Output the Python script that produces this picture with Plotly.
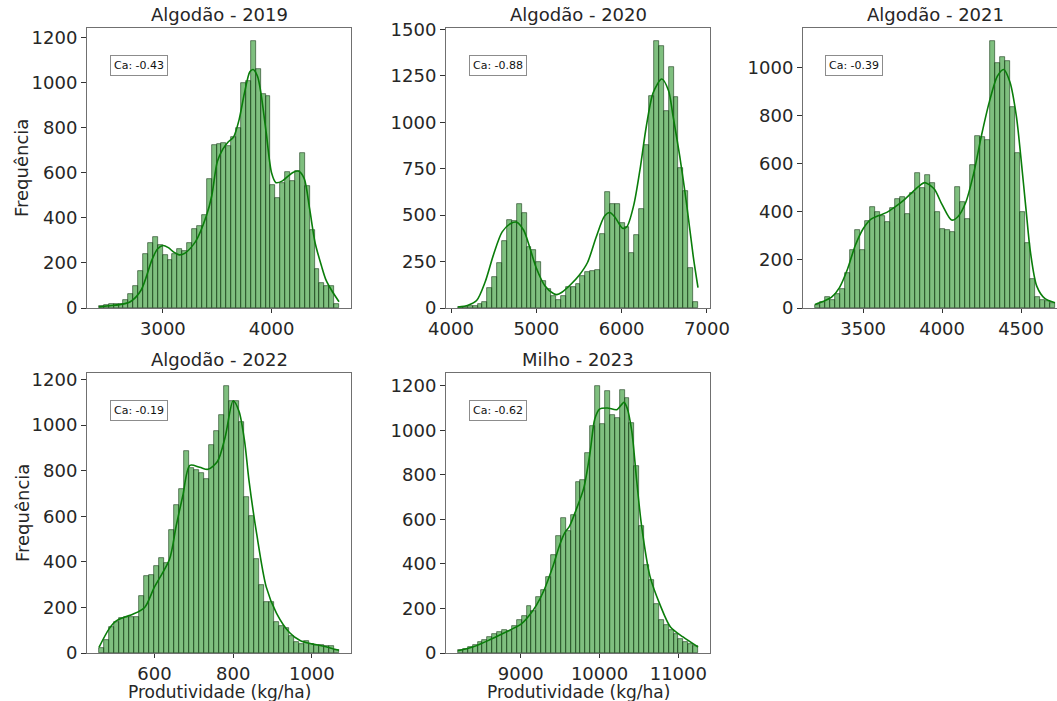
import numpy as np
import plotly.graph_objects as go

# ---- data: histogram counts (equal-width bins between bin_start and bin_end) ----
titles = ["Algodão - 2019", "Algodão - 2020", "Algodão - 2021", "Algodão - 2022", "Milho - 2023"]
ca_labels = ["Ca: -0.43", "Ca: -0.88", "Ca: -0.39", "Ca: -0.19", "Ca: -0.62"]

bin_start = [2412, 4082, 3195, 459, 8204]
bin_end = [4620, 6895, 4715, 1069, 11250]

counts_2019 = [10, 14, 20, 17, 20, 35, 62, 100, 165, 238, 290, 315, 280, 235, 215, 240, 262,
               252, 290, 350, 365, 415, 575, 725, 730, 735, 720, 760, 800, 1000, 1010, 1185,
               1060, 950, 940, 545, 490, 557, 605, 565, 610, 688, 540, 345, 172, 110, 100, 100, 18]
counts_2020 = [4, 7, 11, 12, 22, 31, 107, 166, 244, 362, 474, 468, 559, 514, 327, 311, 246,
               148, 103, 63, 43, 67, 112, 112, 130, 175, 193, 199, 203, 398, 622, 559, 560, 456,
               438, 297, 392, 533, 880, 1143, 1436, 1410, 1061, 1297, 1134, 754, 631, 217, 31]
counts_2021 = [14, 25, 45, 35, 60, 78, 145, 243, 326, 243, 361, 421, 400, 382, 358, 415, 455,
               462, 393, 480, 560, 500, 555, 520, 400, 330, 325, 315, 505, 440, 370, 595, 715,
               710, 700, 1110, 1020, 1045, 1030, 835, 645, 400, 270, 120, 45, 35, 30, 20]
counts_2022 = [24, 59, 115, 137, 152, 156, 160, 160, 248, 338, 343, 382, 416, 397, 538, 650,
               720, 888, 813, 803, 790, 762, 912, 975, 1044, 1170, 1105, 1105, 1012, 685, 600,
               412, 300, 225, 225, 137, 118, 110, 74, 49, 41, 52, 38, 34, 34, 29, 31, 12]
counts_2023 = [12, 20, 27, 38, 50, 60, 72, 84, 95, 105, 98, 120, 147, 165, 210, 190, 250, 285,
               340, 440, 523, 606, 546, 620, 768, 776, 899, 1017, 1197, 1027, 1175, 1068, 1057,
               1180, 1143, 1032, 839, 568, 395, 328, 218, 147, 125, 102, 85, 65, 50, 39, 30]

# ---- density curves (scaled to counts) ----
kde_x_2019 = [2412, 2500, 2600, 2700, 2800, 2900, 2950, 3000, 3050, 3100, 3150, 3200, 3300,
              3400, 3450, 3500, 3550, 3600, 3650, 3700, 3750, 3800, 3830, 3870, 3900, 3950,
              4000, 4040, 4100, 4150, 4200, 4250, 4300, 4350, 4400, 4460, 4500, 4550, 4620]
kde_y_2019 = [5, 10, 15, 28, 80, 215, 262, 278, 268, 248, 236, 243, 295, 410, 500, 650, 705,
              738, 760, 835, 955, 1050, 1060, 1030, 960, 780, 600, 557, 565, 585, 603, 608,
              575, 440, 290, 185, 125, 80, 28]
kde_x_2020 = [4082, 4200, 4300, 4400, 4500, 4600, 4700, 4770, 4850, 4900, 5000, 5100, 5200,
              5240, 5300, 5400, 5500, 5600, 5700, 5800, 5860, 5920, 6010, 6060, 6140, 6215,
              6290, 6370, 6470, 6550, 6600, 6680, 6760, 6840, 6895]
kde_y_2020 = [5, 15, 40, 140, 290, 410, 455, 462, 420, 360, 215, 120, 78, 72, 85, 125, 175,
              245, 380, 495, 514, 490, 430, 437, 550, 745, 980, 1160, 1233, 1170, 1040, 820,
              565, 275, 110]
kde_x_2021 = [3195, 3250, 3300, 3350, 3400, 3450, 3500, 3550, 3600, 3650, 3700, 3750, 3800,
              3850, 3890, 3950, 4000, 4060, 4100, 4150, 4200, 4250, 4300, 4350, 4390, 4430,
              4470, 4500, 4530, 4560, 4600, 4650, 4715]
kde_y_2021 = [15, 28, 45, 85, 160, 260, 330, 370, 385, 398, 420, 445, 475, 505, 522, 495, 430,
              366, 380, 440, 560, 720, 860, 965, 993, 940, 800, 620, 420, 230, 90, 40, 22]
kde_x_2022 = [459, 485, 502, 525, 545, 575, 600, 638, 655, 672, 690, 715, 736, 760, 780, 800,
              815, 829, 840, 860, 884, 910, 943, 970, 1000, 1030, 1069]
kde_y_2022 = [25, 107, 140, 158, 170, 200, 290, 410, 556, 690, 823, 815, 806, 840, 950, 1107,
              1060, 930, 760, 520, 290, 175, 90, 55, 40, 30, 12]
kde_x_2023 = [8204, 8400, 8600, 8800, 9000, 9100, 9200, 9300, 9400, 9500, 9560, 9620, 9700,
              9800, 9880, 9940, 10000, 10100, 10220, 10310, 10350, 10410, 10470, 10535, 10640,
              10770, 10900, 11060, 11250]
kde_y_2023 = [10, 28, 58, 92, 128, 165, 215, 285, 380, 490, 540, 570, 640, 740, 900, 1050,
              1095, 1100, 1092, 1125, 1100, 995, 780, 568, 345, 215, 117, 72, 27]

counts = [counts_2019, counts_2020, counts_2021, counts_2022, counts_2023]
kde_x = [kde_x_2019, kde_x_2020, kde_x_2021, kde_x_2022, kde_x_2023]
kde_y = [kde_y_2019, kde_y_2020, kde_y_2021, kde_y_2022, kde_y_2023]

x_ticks = [[3000, 4000], [4000, 5000, 6000, 7000], [3500, 4000, 4500],
           [600, 800, 1000], [9000, 10000, 11000]]
y_ticks = [list(range(0, 1201, 200)), list(range(0, 1501, 250)), list(range(0, 1001, 200)),
           list(range(0, 1201, 200)), list(range(0, 1201, 200))]

# ---- layout geometry (pixels) ----
W, H = 1057, 701
AX_W = 264
col_left = [87, 446, 803]
row_top = [28, 373]
AX_H = 280
panel_pos = [(0, 0), (0, 1), (0, 2), (1, 0), (1, 1)]

FONT = "DejaVu Sans"
TXT = "#262626"
BAR_FILL = "rgba(0,128,0,0.5)"
BAR_EDGE = "rgba(20,55,20,0.85)"
KDE_COLOR = "#0a7d0a"
FS = 18

fig = go.Figure()
layout = dict(
    template="none",
    width=W, height=H,
    margin=dict(l=0, r=0, t=0, b=0, pad=0),
    paper_bgcolor="white", plot_bgcolor="white",
    showlegend=False, bargap=0,
    font=dict(family=FONT, color=TXT, size=FS),
)
annotations = []

for k in range(5):
    n = k + 1
    xs = "x" if n == 1 else f"x{n}"
    ys = "y" if n == 1 else f"y{n}"
    r, c = panel_pos[k]

    edges = np.linspace(bin_start[k], bin_end[k], len(counts[k]) + 1)
    centers = (edges[:-1] + edges[1:]) / 2
    width = edges[1] - edges[0]

    fig.add_trace(go.Bar(
        x=centers, y=counts[k], width=width, xaxis=xs, yaxis=ys,
        marker=dict(color=BAR_FILL, line=dict(color=BAR_EDGE, width=0.7)),
    ))
    fig.add_trace(go.Scatter(
        x=kde_x[k], y=kde_y[k], xaxis=xs, yaxis=ys, mode="lines",
        line=dict(color=KDE_COLOR, width=1.6, shape="spline", smoothing=0.8),
    ))

    span = bin_end[k] - bin_start[k]
    x0 = bin_start[k] - 0.05 * span
    x1 = bin_end[k] + 0.05 * span
    left = col_left[c]
    right = left + AX_W
    if right > W:  # last column runs past the figure edge
        x1 = x0 + (x1 - x0) * (W - left) / AX_W
        right = W
    top = row_top[r]
    bottom = top + AX_H
    ymax = 1.05 * max(max(counts[k]), max(kde_y[k]))

    xname = "xaxis" if n == 1 else f"xaxis{n}"
    yname = "yaxis" if n == 1 else f"yaxis{n}"
    layout[xname] = dict(
        domain=[left / W, right / W], anchor=ys, range=[x0, x1], automargin=False,
        tickmode="array", tickvals=x_ticks[k], ticktext=[str(v) for v in x_ticks[k]],
        ticks="outside", ticklen=4, tickcolor="#333", showline=True, linecolor="#707070",
        linewidth=1, mirror=True, showgrid=False, zeroline=False,
        tickfont=dict(size=FS, color=TXT, family=FONT),
    )
    layout[yname] = dict(
        domain=[1 - bottom / H, 1 - top / H], anchor=xs, range=[0, ymax], automargin=False,
        tickmode="array", tickvals=y_ticks[k], ticktext=[str(v) for v in y_ticks[k]],
        ticks="outside", ticklen=5, tickcolor="#333", showline=True, linecolor="#707070",
        linewidth=1, mirror=(right < W), showgrid=False, zeroline=False,
        tickfont=dict(size=FS, color=TXT, family=FONT),
    )

    # subplot title
    annotations.append(dict(
        text=titles[k], xref="paper", yref="paper",
        x=(left + AX_W / 2) / W, y=1 - top / H, xanchor="center", yanchor="bottom",
        yshift=1, showarrow=False, font=dict(size=FS, color=TXT, family=FONT),
    ))
    # correlation box
    annotations.append(dict(
        text=ca_labels[k], xref=f"{xs} domain", yref=f"{ys} domain",
        x=23 / AX_W, y=1 - 27 / AX_H, xanchor="left", yanchor="top",
        showarrow=False, bgcolor="white", bordercolor="#8c8c8c", borderwidth=1,
        borderpad=3, font=dict(size=11, color="#111", family=FONT),
    ))
    if c == 0:
        annotations.append(dict(
            text="Frequência", xref="paper", yref="paper",
            x=22 / W, y=1 - (top + AX_H / 2) / H, xanchor="center", yanchor="middle",
            textangle=-90, showarrow=False, font=dict(size=FS, color=TXT, family=FONT),
        ))
    if r == 1:
        annotations.append(dict(
            text="Produtividade (kg/ha)", xref="paper", yref="paper",
            x=(left + AX_W / 2) / W, y=1 - (bottom + 39) / H, xanchor="center",
            yanchor="middle", showarrow=False, font=dict(size=17, color=TXT, family=FONT),
        ))

layout["annotations"] = annotations
fig.update_layout(**layout)
fig.write_html("out.html")
